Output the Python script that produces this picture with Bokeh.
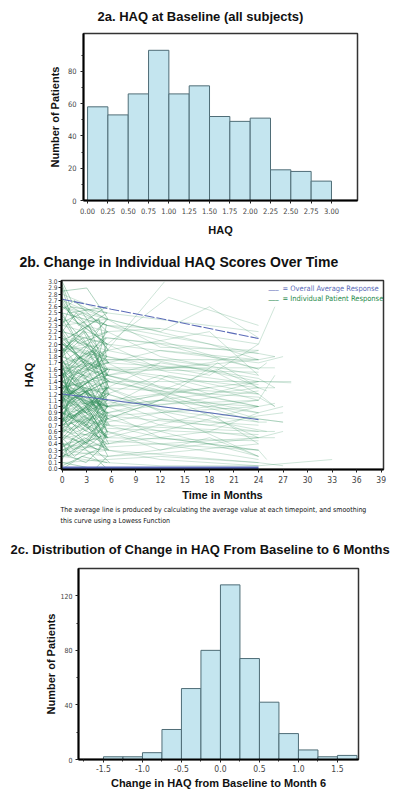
from bokeh.plotting import figure
from bokeh.models import FixedTicker, NumeralTickFormatter, Label, Range1d, Title
from bokeh.embed import file_html
from bokeh.resources import INLINE

# ---------------- data ----------------
# 2a: baseline HAQ histogram
haq_bin_edges = [0.00, 0.25, 0.50, 0.75, 1.00, 1.25, 1.50, 1.75, 2.00, 2.25, 2.50, 2.75, 3.00]
haq_counts = [58, 53, 66, 93, 66, 71, 52, 49, 51, 19, 18, 12]
haq_ticks = [0.00, 0.25, 0.50, 0.75, 1.00, 1.25, 1.50, 1.75, 2.00, 2.25, 2.50, 2.75, 3.00]
count_ticks_a = [0, 20, 40, 60, 80]
count_minor_a = [10, 30, 50, 70, 90]

# 2b: individual trajectories (first 6 months: baseline, mid visit, ~month 6 visit)
e_h0 = [2.95, 2.85, 2.75, 2.65, 2.55, 2.45, 2.35, 2.25, 2.15, 2.05,
        1.95, 1.85, 1.75, 1.65, 1.55, 1.45, 1.35, 1.25, 1.15, 1.05,
        0.95, 0.85, 0.75, 0.65, 0.55, 0.45, 0.35, 0.25, 0.15, 0.05,
        2.1, 1.9, 1.7, 1.5, 1.3, 1.1, 0.9, 0.7, 0.5, 0.3,
        2.2, 2.0, 1.8, 1.6, 1.4, 1.2, 1.0, 0.8, 0.6, 0.4,
        1.25, 1.15, 1.05, 0.95, 1.35, 1.45, 0.85, 0.75, 1.55, 1.65,
        1.2, 1.1, 1.0, 0.9, 1.3, 1.4, 0.8, 1.5, 0.7, 1.6,
        2.4, 0.2, 1.75, 0.65, 1.85, 0.55, 2.3, 1.0, 1.2, 0.1,
        2.7, 1.6, 0.9, 2.0, 1.1, 0.45, 1.35, 2.5, 0.75, 1.9,
        1.05, 1.25, 0.95, 1.15, 0.85, 1.45, 2.05, 0.6, 1.7, 3.0,
        0.0, 1.3, 2.2, 0.35, 1.8, 1.0, 2.6, 0.5, 1.4, 1.2,
        0.8, 1.55, 2.9, 0.25, 1.65, 1.1, 0.7, 1.95, 1.5, 0.9]
e_t1 = [1.0, 3.0, 2.0, 4.0, 1.5, 3.5, 2.5, 0.8, 3.2, 4.5,
        1.2, 2.8, 1.8, 3.8, 0.9, 2.2, 4.2, 1.6, 3.0, 2.6,
        3.4, 1.1, 2.4, 4.4, 1.9, 0.7, 3.6, 2.9, 1.3, 4.1,
        2.1, 3.3, 1.0, 4.0, 2.7, 1.4, 3.9, 0.8, 2.3, 3.1,
        1.7, 4.3, 2.5, 0.9, 3.5, 1.2, 2.0, 4.6, 3.0, 1.5,
        1.0, 1.0, 1.0, 1.0, 1.1, 0.9, 1.2, 1.0, 0.8, 1.1,
        3.0, 3.1, 2.9, 3.0, 3.2, 2.8, 3.0, 3.1, 2.9, 3.0,
        2.0, 4.0, 1.5, 3.5, 2.5, 4.5, 1.0, 3.0, 2.0, 4.0,
        1.3, 3.7, 2.2, 4.1, 0.9, 2.8, 3.4, 1.6, 4.4, 2.6,
        1.0, 3.0, 2.0, 4.0, 1.5, 3.5, 2.5, 0.8, 3.2, 1.1,
        2.4, 4.2, 1.8, 3.6, 1.2, 2.9, 4.0, 1.4, 3.3, 2.1,
        3.8, 1.9, 0.9, 2.7, 4.3, 1.0, 3.1, 2.3, 1.7, 4.5]
e_h1 = [2.6, 2.9, 2.3, 2.0, 2.7, 1.9, 2.5, 2.1, 1.6, 2.4,
        1.5, 2.2, 1.4, 1.9, 1.2, 1.8, 1.0, 1.6, 0.8, 1.4,
        1.3, 0.6, 1.1, 0.3, 0.9, 0.2, 0.7, 0.1, 0.5, 0.3,
        1.8, 2.3, 1.2, 1.9, 0.9, 1.5, 0.6, 1.1, 0.8, 0.5,
        2.5, 1.6, 2.1, 1.1, 1.7, 0.8, 1.4, 0.5, 1.0, 0.2,
        1.2, 1.2, 1.3, 1.1, 1.2, 1.2, 1.15, 1.25, 1.2, 1.3,
        0.9, 1.4, 0.6, 1.2, 1.7, 1.0, 0.4, 1.9, 1.0, 1.2,
        2.0, 0.5, 1.4, 0.9, 2.3, 0.3, 2.6, 0.7, 1.6, 0.0,
        2.4, 1.9, 0.6, 1.6, 1.5, 0.8, 1.0, 2.1, 1.1, 2.2,
        1.4, 0.9, 1.2, 0.8, 1.1, 1.8, 1.7, 0.9, 2.0, 2.7,
        0.2, 1.0, 1.8, 0.6, 2.1, 1.3, 2.2, 0.3, 1.1, 1.5,
        1.1, 1.3, 2.5, 0.5, 1.4, 0.8, 1.0, 1.6, 1.8, 0.6]
e_t2 = [5.5, 5.6, 5.4, 5.7, 5.5, 5.3, 5.6, 5.5, 5.8, 5.4,
        5.6, 5.5, 5.2, 5.7, 5.5, 5.6, 5.4, 5.5, 5.7, 5.3,
        5.5, 5.6, 5.5, 5.4, 5.7, 5.5, 5.6, 5.3, 5.5, 5.8,
        5.4, 5.5, 5.6, 5.7, 5.5, 5.3, 5.5, 5.6, 5.4, 5.5,
        5.7, 5.5, 5.6, 5.4, 5.5, 5.8, 5.5, 5.6, 5.3, 5.5,
        5.5, 5.6, 5.4, 5.5, 5.7, 5.5, 5.6, 5.5, 5.4, 5.6,
        5.5, 5.3, 5.6, 5.5, 5.7, 5.4, 5.5, 5.6, 5.5, 5.8,
        5.6, 5.5, 5.4, 5.7, 5.5, 5.6, 5.5, 5.3, 5.6, 5.5,
        5.5, 5.7, 5.5, 5.4, 5.6, 5.5, 5.8, 5.5, 5.6, 5.4,
        5.6, 5.5, 5.7, 5.5, 5.4, 5.6, 5.5, 5.5, 5.7, 5.5,
        5.5, 5.6, 5.4, 5.5, 5.7, 5.5, 5.6, 5.3, 5.5, 5.6,
        5.4, 5.5, 5.6, 5.7, 5.5, 5.6, 5.5, 5.4, 5.8, 5.5]
e_h2 = [2.3, 2.4, 2.6, 1.7, 2.2, 2.1, 1.9, 2.5, 1.4, 1.8,
        1.7, 1.6, 1.9, 1.3, 1.6, 1.0, 1.3, 1.1, 1.2, 0.9,
        0.8, 1.0, 0.5, 0.6, 0.3, 0.7, 0.2, 0.4, 0.0, 0.1,
        2.4, 1.5, 1.6, 1.2, 1.3, 0.9, 1.0, 0.5, 0.3, 0.9,
        1.9, 2.0, 1.5, 1.4, 1.1, 1.2, 0.7, 0.9, 0.5, 0.6,
        0.9, 1.6, 0.7, 1.4, 0.8, 1.8, 0.5, 1.0, 1.3, 1.1,
        1.3, 0.8, 1.0, 0.6, 1.5, 1.2, 0.9, 1.4, 0.3, 0.7,
        2.2, 0.8, 1.8, 0.4, 2.0, 0.6, 2.5, 1.2, 1.0, 0.2,
        2.0, 1.3, 1.1, 2.3, 0.9, 0.5, 1.6, 1.8, 0.8, 1.5,
        1.0, 1.1, 0.7, 1.3, 1.5, 1.2, 2.2, 0.4, 1.7, 2.4,
        0.1, 1.4, 1.6, 0.8, 1.7, 0.6, 2.4, 0.7, 1.0, 1.9,
        0.9, 1.0, 2.6, 0.3, 1.2, 1.3, 0.6, 2.1, 1.4, 0.5]

# 2b: patients with longer follow-up (visit months, HAQ at each visit)
fu_months = [[0, 3, 5.5, 12, 24], [0, 5.5, 13, 24], [0, 5.5, 12.5], [0, 5.5, 26],
             [0, 5.5, 24, 27], [0, 5.5, 12, 24, 33], [0, 5.5, 18, 26], [0, 5.5, 12, 19, 24],
             [0, 5.5, 24, 28], [0, 5.5, 12, 24], [0, 5.5, 24], [0, 5.5, 12, 24, 25],
             [0, 5.5, 18, 24], [0, 5.5, 12, 24], [0, 5.5, 13, 25], [0, 5.5, 24, 26],
             [0, 5.5, 24, 27], [0, 5.5, 12, 24], [0, 5.5, 18, 24, 26], [0, 5.5, 12, 24],
             [0, 5.5, 24], [0, 5.5, 18, 24], [0, 5.5, 12, 24, 25], [0, 5.5, 24, 28],
             [0, 5.5, 12, 18, 24], [0, 5.5, 24, 27], [0, 5.5, 24], [0, 5.5, 12, 24, 26],
             [0, 5.5, 12, 24], [0, 5.5, 18, 24], [0, 5.5, 24, 26], [0, 5.5, 12, 24],
             [0, 5.5, 24], [0, 5.5, 12, 24, 27], [0, 5.5, 24], [0, 5.5, 18, 24],
             [0, 5.5, 12, 24], [0, 5.5, 24, 25], [0, 5.5, 12, 24], [0, 5.5, 12, 24],
             [0, 5.5, 24, 26], [0, 5.5, 18, 24], [0, 5.5, 12, 24], [0, 5.5, 24],
             [0, 5.5, 12, 18, 24], [0, 5.5, 24, 26], [0, 5.5, 12, 24], [0, 5.5, 24],
             [0, 5.5, 13, 24], [0, 5.5, 24, 27],
             [0, 5.5, 12], [0, 5.5, 12, 24], [0, 5.5, 13], [0, 5.5, 12, 18],
             [0, 5.5, 24, 26], [0, 5.5, 12, 24], [0, 5.5, 18, 24], [0, 5.5, 12, 24, 26],
             [0, 5.5, 12, 24], [0, 5.5, 24], [0, 5.5, 12, 24], [0, 5.5, 18, 24, 27],
             [0, 5.5, 12], [0, 5.5, 12, 24], [0, 5.5, 24, 25], [0, 5.5, 12, 18, 24],
             [0, 5.5, 24], [0, 5.5, 13, 24], [0, 5.5, 12, 24], [0, 5.5, 24, 26],
             [0, 5.5, 12, 24], [0, 5.5, 18], [0, 5.5, 12, 24], [0, 5.5, 24, 27],
             [0, 5.5, 12, 19, 24], [0, 5.5, 24], [0, 5.5, 12, 24], [0, 5.5, 12, 24, 26],
             [0, 5.5, 24], [0, 5.5, 12, 24]]
fu_haq = [[1.8, 1.6, 1.5, 1.3, 1.0], [2.2, 2.0, 2.75, 2.3], [1.5, 1.9, 3.0], [1.3, 1.62, 1.62],
          [0.4, 0.3, 0.1, 0.05], [0.2, 0.1, 0.05, 0.05, 0.15], [2.6, 2.3, 2.0, 1.8], [1.2, 0.9, 1.1, 1.7, 1.3],
          [1.6, 1.4, 1.4, 1.4], [0.8, 0.7, 0.5, 0.3], [2.0, 1.75, 1.75], [1.1, 1.0, 1.2, 0.75, 0.75],
          [0.6, 0.5, 0.9, 0.4], [2.4, 2.2, 1.8, 1.5], [1.4, 1.2, 0.9, 0.6], [0.9, 1.0, 1.1, 1.5],
          [1.7, 1.5, 0.8, 0.75], [0.3, 0.4, 0.6, 0.2], [1.9, 1.8, 1.5, 2.0, 2.6], [1.0, 0.8, 0.6, 1.0],
          [1.5, 1.3, 0.2], [2.1, 1.9, 2.2, 1.5], [0.7, 0.9, 0.5, 0.3, 0.15], [1.3, 1.1, 1.4, 1.38],
          [0.5, 0.6, 0.3, 0.5, 0.2], [1.2, 1.4, 0.9, 1.0], [2.8, 2.5, 2.2], [1.6, 1.7, 1.3, 1.2, 1.0],
          [0.2, 0.3, 0.15, 0.05], [1.8, 1.5, 1.7, 1.9], [0.9, 0.7, 0.6, 0.6], [2.3, 2.1, 2.0, 1.6],
          [0.4, 0.5, 0.45], [1.1, 1.3, 1.0, 0.8, 0.75], [1.9, 2.1, 1.85], [0.7, 0.4, 0.6, 0.9],
          [1.4, 1.2, 1.5, 1.1], [2.5, 2.3, 1.6, 1.7], [0.1, 0.15, 0.2, 0.1], [1.5, 1.0, 0.7, 0.5],
          [1.2, 1.0, 1.3, 1.3], [2.0, 1.7, 1.6, 1.2], [0.6, 0.8, 1.1, 0.9], [1.7, 1.9, 1.4],
          [2.7, 2.4, 2.2, 2.6, 2.1], [0.3, 0.2, 0.5, 0.5], [1.0, 1.1, 0.8, 0.6], [1.3, 1.5, 1.0],
          [0.8, 1.0, 1.5, 1.2], [2.2, 2.0, 1.7, 1.8],
          [1.0, 1.3, 1.7], [2.0, 2.2, 2.25, 2.0], [0.5, 0.8, 1.15], [1.6, 1.75, 1.75, 1.65],
          [0.7, 0.85, 1.0, 1.05], [1.1, 0.6, 0.4, 0.15], [2.3, 2.4, 2.0, 1.75], [1.5, 1.7, 1.9, 1.75, 1.8],
          [0.9, 1.2, 0.95, 0.75], [0.6, 0.9, 1.25], [1.3, 1.45, 1.2, 0.5], [1.1, 0.85, 0.7, 0.85, 0.9],
          [2.5, 2.3, 2.25], [0.4, 0.2, 0.25, 0.4], [1.8, 1.6, 1.3, 1.25], [1.4, 1.6, 1.45, 1.2, 1.4],
          [1.0, 0.65, 0.55], [2.0, 1.8, 1.55, 1.35], [0.3, 0.55, 0.8, 0.7], [1.6, 1.3, 1.15, 1.0],
          [2.6, 2.4, 1.95, 1.9], [0.8, 1.05, 1.3], [1.2, 1.0, 1.1, 1.0], [0.5, 0.35, 0.5, 0.6],
          [1.7, 1.4, 1.25, 1.6, 1.3], [2.1, 1.6, 1.55], [0.9, 0.75, 0.9, 1.1], [1.3, 1.5, 1.7, 1.45, 1.3],
          [0.2, 0.45, 0.3], [1.9, 2.0, 1.6, 1.75]]

# 2b: smoothed average response lines
avg_months = [0, 6, 12, 18, 24]
avg_upper = [2.72, 2.56, 2.41, 2.25, 2.09]
avg_mean = [1.20, 1.10, 1.00, 0.90, 0.79]
avg_lower = [0.02, 0.02, 0.02, 0.02, 0.02]
month_ticks = [0, 3, 6, 9, 12, 15, 18, 21, 24, 27, 30, 33, 36, 39]
haq_ticks_b = [round(i * 0.1, 1) for i in range(31)]

# 2c: change from baseline to month 6
chg_bin_edges = [-1.50, -1.25, -1.00, -0.75, -0.50, -0.25, 0.00, 0.25, 0.50, 0.75, 1.00, 1.25, 1.50, 1.75]
chg_counts = [2, 2, 5, 22, 52, 80, 128, 74, 42, 19, 7, 2, 3]
chg_ticks = [-1.5, -1.0, -0.5, 0.0, 0.5, 1.0, 1.5]
chg_minor = [-1.75, -1.25, -0.75, -0.25, 0.25, 0.75, 1.25]
count_ticks_c = [0, 40, 80, 120]
count_minor_c = [20, 60, 100]

# ---------------- style ----------------
SANS = "Liberation Sans"
NARROW = "DejaVu Sans Condensed, Liberation Sans Narrow, Liberation Sans, sans-serif"
BAR_FILL = "#c4e5ef"
BAR_LINE = "#4f6d77"
GREEN = "#2e8b57"
GREEN_TXT = "#1f8a4c"
BLUE = "#5b6bb8"
TICK_COLOR = "#444444"


def style(p, xfont, yfont):
    p.background_fill_color = "white"
    p.border_fill_color = "white"
    p.outline_line_color = "#333333"
    p.outline_line_width = 1.5
    p.xgrid.visible = False
    p.ygrid.visible = False
    for ax, fs in ((p.xaxis[0], xfont), (p.yaxis[0], yfont)):
        ax.axis_line_color = "black"
        ax.axis_line_width = 2
        ax.major_tick_in = 0
        ax.major_tick_out = 3
        ax.minor_tick_in = 0
        ax.minor_tick_out = 2
        ax.major_tick_line_color = "#222222"
        ax.minor_tick_line_color = "#222222"
        ax.major_label_text_font = NARROW
        ax.major_label_text_font_size = fs
        ax.major_label_text_color = TICK_COLOR
        ax.axis_label_text_font = SANS
        ax.axis_label_text_font_style = "bold"
        ax.axis_label_text_font_size = "11px"
        ax.axis_label_text_color = "#111111"


def set_title(p, text, size, offset, standoff):
    p.title.text = text
    p.title.align = "left"
    p.title.vertical_align = "top"
    p.title.offset = offset
    p.title.standoff = standoff
    p.title.text_font = SANS
    p.title.text_font_style = "bold"
    p.title.text_font_size = size
    p.title.text_color = "#111111"


def add_text(p, x, y, text, size, color, font=NARROW):
    p.add_layout(Label(x=x, y=y, x_units="screen", y_units="screen", text=text,
                       text_font=font, text_font_size=size, text_color=color,
                       text_align="left", text_baseline="middle"))


# ---------------- 2a ----------------
pa = figure(width=400, height=238, x_range=Range1d(-0.05, 3.32), y_range=Range1d(0, 103.4),
            output_backend="svg", toolbar_location=None,
            min_border_left=83, min_border_right=43, min_border_top=33, min_border_bottom=37)
pa.quad(left=haq_bin_edges[:-1], right=haq_bin_edges[1:], bottom=0, top=haq_counts,
        fill_color=BAR_FILL, line_color=BAR_LINE, line_width=1)
style(pa, "7.5px", "7.5px")
set_title(pa, "2a. HAQ at Baseline (all subjects)", "13px", 14, 15)
pa.xaxis.ticker = FixedTicker(ticks=haq_ticks)
pa.xaxis.formatter = NumeralTickFormatter(format="0.00")
pa.yaxis.ticker = FixedTicker(ticks=count_ticks_a, minor_ticks=count_minor_a)
pa.xaxis.axis_label = "HAQ"
pa.yaxis.axis_label = "Number of Patients"
pa.xaxis.major_label_standoff = 4
pa.yaxis.major_label_standoff = 4
pa.xaxis.axis_label_standoff = 7
pa.yaxis.axis_label_standoff = 4

# ---------------- 2b ----------------
pb = figure(width=400, height=287, x_range=Range1d(-0.09, 39.28), y_range=Range1d(-0.01, 3.02),
            output_backend="svg", toolbar_location=None,
            min_border_left=61, min_border_right=17, min_border_top=42, min_border_bottom=55)
early_xs = [[0, a, b] for a, b in zip(e_t1, e_t2)]
early_ys = [[h0, h1, h2] for h0, h1, h2 in zip(e_h0, e_h1, e_h2)]
pb.multi_line(xs=early_xs, ys=early_ys, line_color=GREEN, line_alpha=0.55, line_width=0.7)
pb.multi_line(xs=fu_months, ys=fu_haq, line_color=GREEN, line_alpha=0.33, line_width=0.7)
pb.line(avg_months, avg_upper, line_color=BLUE, line_width=1.1, line_dash="10 2")
pb.line(avg_months, avg_mean, line_color=BLUE, line_width=1.1)
pb.line(avg_months, avg_lower, line_color=BLUE, line_width=2.5)
style(pb, "8.5px", "6.5px")
set_title(pb, "2b. Change in Individual HAQ Scores Over Time", "14px", -42, 17)
pb.xaxis.ticker = FixedTicker(ticks=month_ticks)
pb.yaxis.ticker = FixedTicker(ticks=haq_ticks_b)
pb.yaxis.formatter = NumeralTickFormatter(format="0.0")
pb.yaxis.major_label_standoff = 1
pb.xaxis.major_label_standoff = 3
pb.xaxis.axis_label = "Time in Months"
pb.yaxis.axis_label = "HAQ"
pb.xaxis.axis_label_standoff = 3
pb.yaxis.axis_label_standoff = 10

# legend (as in the original: underscore key + coloured text)
add_text(pb, 207, 183, "___", "7.5px", BLUE)
add_text(pb, 221, 181.5, "= Overall Average Response", "7.5px", BLUE)
add_text(pb, 207, 173, "___", "7.5px", GREEN_TXT)
add_text(pb, 221, 171.5, "= Individual Patient Response", "7.5px", GREEN_TXT)

# footnote below the axis
for txt, so in (("The average line is produced by calculating the average value at each timepoint, and smoothing", 2),
                ("this curve using a Lowess Function", 0)):
    pb.add_layout(Title(text=txt, align="left", vertical_align="middle", offset=-1, standoff=so,
                        text_font=NARROW, text_font_size="7px", text_font_style="normal",
                        text_color="#111111"), "below")

# ---------------- 2c ----------------
pc = figure(width=400, height=273, x_range=Range1d(-1.82, 1.77), y_range=Range1d(0, 140),
            output_backend="svg", toolbar_location=None,
            min_border_left=78, min_border_right=42, min_border_top=43, min_border_bottom=39)
pc.quad(left=chg_bin_edges[:-1], right=chg_bin_edges[1:], bottom=0, top=chg_counts,
        fill_color=BAR_FILL, line_color=BAR_LINE, line_width=1)
style(pc, "8.5px", "7px")
set_title(pc, "2c. Distribution of Change in HAQ From Baseline to 6 Months", "13px", -68, 19)
pc.xaxis.ticker = FixedTicker(ticks=chg_ticks, minor_ticks=chg_minor)
pc.xaxis.formatter = NumeralTickFormatter(format="0.0")
pc.yaxis.ticker = FixedTicker(ticks=count_ticks_c, minor_ticks=count_minor_c)
pc.xaxis.axis_label = "Change in HAQ from Baseline to Month 6"
pc.yaxis.axis_label = "Number of Patients"
pc.xaxis.major_label_standoff = 2
pc.yaxis.major_label_standoff = 3
pc.xaxis.axis_label_standoff = 2
pc.yaxis.axis_label_standoff = 0

# separate roots so that the three plot frames keep their own positions
open("out.html", "w").write(file_html([pa, pb, pc], INLINE))
